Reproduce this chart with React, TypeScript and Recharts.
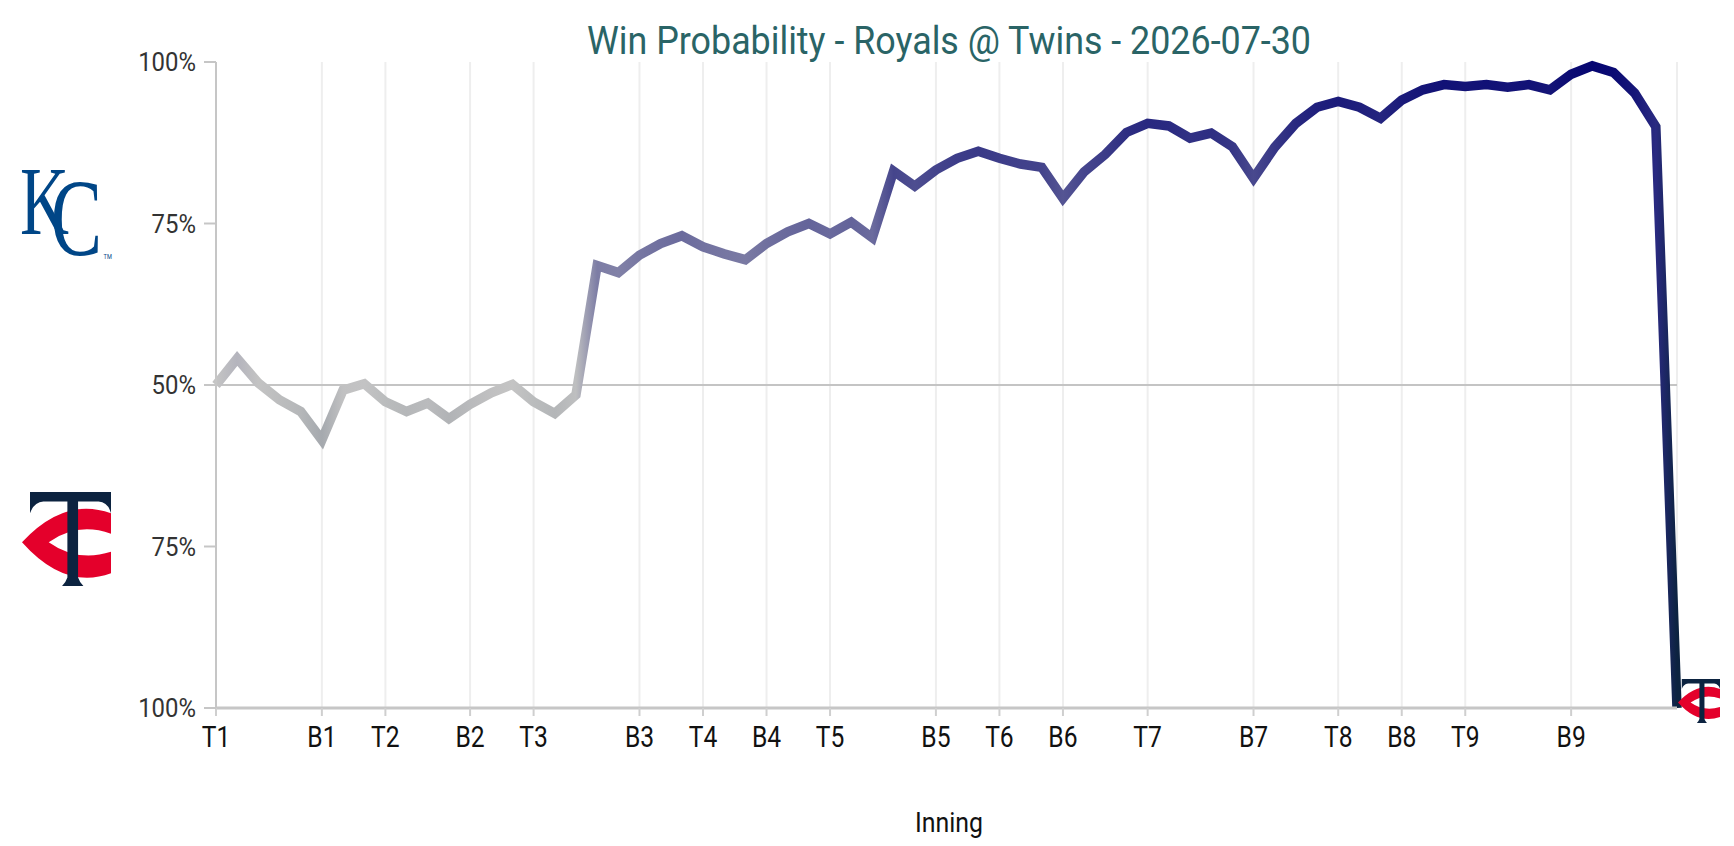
import React from "react";
import {
  LineChart,
  Line,
  XAxis,
  YAxis,
  CartesianGrid,
  ReferenceLine,
} from "recharts";

// Royals win probability after each play (percent)
const winProb = [
  50, 54.1, 50.3, 47.7, 45.9, 41.5, 49.2, 50.2, 47.4, 45.9,
  47.2, 44.8, 47.0, 48.8, 50.1, 47.4, 45.6, 48.5, 68.5, 67.4,
  70.1, 71.9, 73.1, 71.4, 70.3, 69.4, 71.9, 73.7, 75.0, 73.4,
  75.2, 72.8, 83.1, 80.8, 83.3, 85.1, 86.2, 85.1, 84.2, 83.7,
  78.9, 83.0, 85.7, 89.1, 90.5, 90.1, 88.2, 89.0, 86.9, 82.0,
  86.8, 90.5, 93.0, 93.9, 93.0, 91.3, 94.1, 95.7, 96.5, 96.2,
  96.5, 96.1, 96.5, 95.7, 98.1, 99.4, 98.4, 95.2, 90.0, 0,
];

// play index where each half inning starts
const inningTicks = [0, 5, 8, 12, 15, 20, 23, 26, 29, 34, 37, 40, 44, 49, 53, 56, 59, 64];
const inningLabels = [
  "T1", "B1", "T2", "B2", "T3", "B3", "T4", "B4", "T5",
  "B5", "T6", "B6", "T7", "B7", "T8", "B8", "T9", "B9",
];
const yTicks = [0, 25, 50, 75, 100];

const title = "Win Probability - Royals @ Twins - 2026-07-30";

const data = winProb.map((p, i) => ({ i, p }));

const GRAY = [196, 196, 196];
const AWAY = [4, 4, 112]; // royals side
const HOME = [12, 35, 64]; // twins side

function mix(a: number[], b: number[], t: number) {
  const c = a.map((v, k) => Math.round(v + (b[k] - v) * t));
  return `rgb(${c[0]},${c[1]},${c[2]})`;
}

function colorFor(p: number) {
  if (p >= 50) return mix(GRAY, AWAY, (p - 50) / 50);
  return mix(GRAY, HOME, (50 - p) / 50);
}

const XTick = (props: any) => {
  const { x, y, payload } = props;
  const idx = inningTicks.indexOf(payload.value);
  return (
    <g transform={`translate(${x},${y + 29})`}>
      <text
        transform="scale(0.85,1)"
        textAnchor="middle"
        fontFamily="Roboto"
        fontSize={29}
        fill="#111"
      >
        {inningLabels[idx]}
      </text>
    </g>
  );
};

const YTick = (props: any) => {
  const { x, y, payload } = props;
  const v = payload.value;
  return (
    <g transform={`translate(${x},${y + 9})`}>
      <text
        transform="scale(0.92,1)"
        textAnchor="end"
        fontFamily="Roboto"
        fontSize={26}
        fill="#333"
      >
        {Math.max(v, 100 - v)}%
      </text>
    </g>
  );
};

function TwinsLogo({ x, y, w, h }: { x: number; y: number; w: number; h: number }) {
  return (
    <g transform={`translate(${x},${y}) scale(${w / 100},${h / 88})`}>
      <path
        d="M100,20 Q48,4 0,47 Q48,92 100,76 L100,56 Q62,66 30,47 Q62,28 100,39 Z"
        fill="#E4002B"
      />
      <path
        d="M9,0 L100,0 L100,20 Q97,10 86,9 L63,9 L63,80 Q65,85 69,88 L45,88 Q49,85 51,80 L51,9 L24,9 Q13,10 9,20 Z"
        fill="#0C2340"
      />
    </g>
  );
}

function RoyalsLogo() {
  return (
    <text
      transform="translate(20,234) scale(0.7,1)"
      fill="#004687"
      fontFamily="Liberation Serif"
      fontSize={97}
    >
      <tspan>K</tspan>
      <tspan dx={-26} dy={21} fontSize={110}>C</tspan>
      <tspan dx={2} dy={4} fontSize={8} fontFamily="Roboto">TM</tspan>
    </text>
  );
}

export default function App() {
  return (
    <div style={{ position: "absolute", left: 0, top: 0, width: 1734, height: 846, background: "#fff" }}>
      <LineChart
        width={1734}
        height={846}
        data={data}
        margin={{ top: 62, right: 57, bottom: 0, left: 0 }}
      >
        <defs>
          <linearGradient id="wpGrad" x1="0" y1="0" x2="1" y2="0">
            {winProb.map((p, i) => (
              <stop key={i} offset={i / (winProb.length - 1)} stopColor={colorFor(p)} />
            ))}
          </linearGradient>
        </defs>
        <CartesianGrid vertical horizontal={false} stroke="#eeeeee" strokeWidth={2} />
        <XAxis
          dataKey="i"
          type="number"
          domain={[0, winProb.length - 1]}
          ticks={inningTicks}
          interval={0}
          height={138}
          tick={<XTick />}
          tickSize={8}
          tickLine={{ stroke: "#cfcfcf", strokeWidth: 2 }}
          axisLine={{ stroke: "#c6c6c6", strokeWidth: 3 }}
        />
        <YAxis
          type="number"
          domain={[0, 100]}
          ticks={yTicks}
          interval={0}
          width={216}
          tick={<YTick />}
          tickSize={12}
          tickMargin={8}
          tickLine={{ stroke: "#c6c6c6", strokeWidth: 2 }}
          axisLine={{ stroke: "#c6c6c6", strokeWidth: 2 }}
        />
        <ReferenceLine y={50} stroke="#c4c4c4" strokeWidth={2} />
        <Line
          type="linear"
          dataKey="p"
          stroke="url(#wpGrad)"
          strokeWidth={9.5}
          dot={false}
          activeDot={false}
          isAnimationActive={false}
        />
      </LineChart>
      <svg
        width={1734}
        height={846}
        style={{ position: "absolute", left: 0, top: 0, pointerEvents: "none" }}
      >
        <text
          x={949}
          y={54}
          textAnchor="middle"
          fontFamily="Roboto"
          fontSize={38}
          fill="#2a6466"
          textLength={724}
          lengthAdjust="spacingAndGlyphs"
        >
          {title}
        </text>
        <text
          x={949}
          y={832}
          textAnchor="middle"
          fontFamily="Roboto"
          fontSize={27}
          fill="#111"
          textLength={68}
          lengthAdjust="spacingAndGlyphs"
        >
          Inning
        </text>
        <RoyalsLogo />
        <TwinsLogo x={22} y={492} w={89} h={94} />
        <TwinsLogo x={1678} y={679} w={42} h={44} />
      </svg>
    </div>
  );
}
